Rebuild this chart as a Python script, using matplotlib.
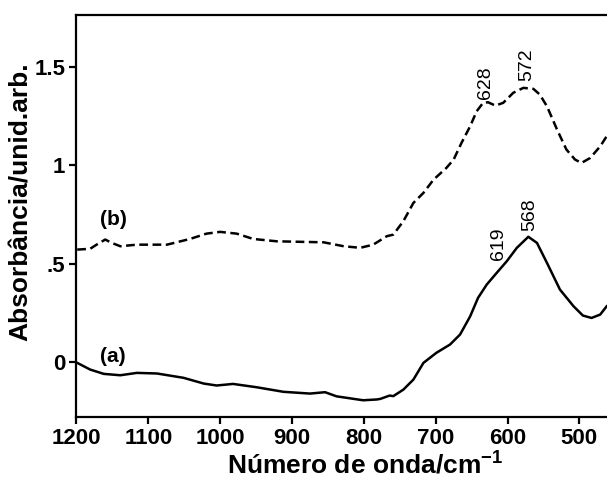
import matplotlib
matplotlib.use("Agg")
import matplotlib.pyplot as plt

plt.rcParams["font.family"] = ["Liberation Sans", "DejaVu Sans"]
plt.rcParams["font.weight"] = "bold"
plt.rcParams["mathtext.fontset"] = "custom"
plt.rcParams["mathtext.rm"] = "Liberation Sans:bold"
plt.rcParams["mathtext.bf"] = "Liberation Sans:bold"

# spectrum (a), solid
wn_a = [1199, 1181, 1162, 1139, 1116, 1088, 1051, 1023, 1005, 982, 949, 912,
        875, 854, 838, 801, 782, 777, 764, 759, 745, 731, 717, 699, 680, 666,
        652, 641, 629, 615, 601, 587, 571, 559, 545, 527, 508, 495, 483, 471, 462]
ab_a = [-0.004, -0.038, -0.06, -0.067, -0.055, -0.058, -0.08, -0.109, -0.119,
        -0.111, -0.128, -0.151, -0.16, -0.153, -0.174, -0.194, -0.19, -0.187,
        -0.17, -0.173, -0.14, -0.089, -0.004, 0.047, 0.089, 0.14, 0.232, 0.326,
        0.393, 0.453, 0.512, 0.58, 0.636, 0.605, 0.503, 0.368, 0.283, 0.236,
        0.224, 0.241, 0.283]

# spectrum (b), dashed
wn_b = [1199, 1181, 1172, 1160, 1151, 1139, 1116, 1074, 1042, 1019, 1000, 977,
        954, 921, 856, 828, 805, 787, 768, 759, 745, 731, 717, 703, 685, 675,
        664, 652, 643, 634, 627, 617, 606, 592, 578, 564, 555, 545, 531, 518,
        506, 497, 485, 471, 462]
ab_b = [0.571, 0.575, 0.596, 0.622, 0.605, 0.588, 0.596, 0.596, 0.625, 0.652,
        0.661, 0.652, 0.625, 0.613, 0.608, 0.588, 0.58, 0.596, 0.639, 0.647,
        0.715, 0.808, 0.859, 0.926, 0.986, 1.028, 1.113, 1.197, 1.273, 1.316,
        1.319, 1.302, 1.316, 1.367, 1.392, 1.387, 1.358, 1.298, 1.18, 1.079,
        1.028, 1.011, 1.036, 1.095, 1.146]

peak_labels = ["628", "572", "619", "568"]
peak_x = [631, 573, 613, 569]
peak_y = [1.335, 1.425, 0.52, 0.665]

fig = plt.figure(figsize=(6.07, 4.84), dpi=100)
ax = fig.add_axes([0.126, 0.1384, 0.874, 0.8306])
ax.plot(wn_a, ab_a, color="black", lw=1.8)
ax.plot(wn_b, ab_b, color="black", lw=1.8, ls=(0, (3.5, 1.8)))

ax.set_xlim(1200, 461.5)
ax.set_ylim(-0.279, 1.762)
ax.set_xticks([1200, 1100, 1000, 900, 800, 700, 600, 500])
ax.set_yticks([0, 0.5, 1, 1.5])
ax.set_yticklabels(["0", ".5", "1", "1.5"])
ax.spines["right"].set_visible(False)
for s in ["left", "bottom", "top"]:
    ax.spines[s].set_linewidth(1.6)
ax.tick_params(direction="out", length=5, width=1.6, labelsize=16, pad=3)

ax.set_ylabel("Absorbância/unid.arb.", fontsize=19, fontweight="bold")
ax.yaxis.set_label_coords(-0.082, 0.535)
fig.text(0.602, 0.012, r"Número de onda/cm$^{\mathbf{-1}}$", fontsize=19,
         fontweight="bold", ha="center", va="bottom")

ax.text(1149, 0.725, "(b)", fontsize=15, ha="center", va="center")
ax.text(1149, 0.03, "(a)", fontsize=15, ha="center", va="center")
for lab, x, y in zip(peak_labels, peak_x, peak_y):
    ax.text(x, y, lab, fontsize=14, fontweight="normal", rotation=90,
            ha="center", va="bottom")

fig.savefig("out.png", dpi=100)
